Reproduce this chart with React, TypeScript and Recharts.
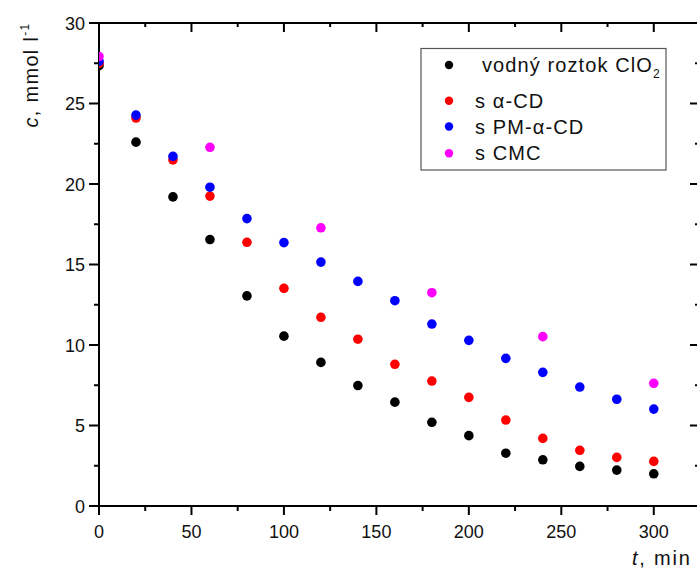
import { ScatterChart, Scatter, XAxis, YAxis } from "recharts";

// time (min)
const times = [0, 20, 40, 60, 80, 100, 120, 140, 160, 180, 200, 220, 240, 260, 280, 300];
const cmcTimes = [0, 60, 120, 180, 240, 300];

// concentration c (mmol/l)
const vodny = [27.35, 22.6, 19.2, 16.55, 13.05, 10.55, 8.92, 7.48, 6.45, 5.2, 4.37, 3.28, 2.87, 2.46, 2.23, 2.0];
const alphaCD = [27.5, 24.1, 21.5, 19.25, 16.38, 13.52, 11.72, 10.36, 8.8, 7.76, 6.75, 5.34, 4.2, 3.46, 3.02, 2.77];
const pmAlphaCD = [27.62, 24.28, 21.72, 19.8, 17.85, 16.36, 15.15, 13.95, 12.75, 11.3, 10.29, 9.17, 8.3, 7.39, 6.63, 6.02];
const cmc = [27.92, 22.28, 17.28, 13.25, 10.52, 7.62];

// axis ticks (majors get labels)
const xTicks = [0, 25, 50, 75, 100, 125, 150, 175, 200, 225, 250, 275, 300];
const yTicks = [0, 2.5, 5, 7.5, 10, 12.5, 15, 17.5, 20, 22.5, 25, 27.5, 30];

const FONT = "'Liberation Sans', Arial, sans-serif";

// layout
const CHART_H = 571;
const TOP_AXIS_H = 23;
const BOTTOM_AXIS_H = 65;
const PLOT_H = CHART_H - TOP_AXIS_H - BOTTOM_AXIS_H;

const toPoints = (xs: number[], ys: number[]) => xs.map((t, i) => ({ t, c: ys[i] }));

const series = [
  { name: "vodný roztok ClO", sub: "2", color: "#000000", data: toPoints(times, vodny) },
  { name: "s α-CD", color: "#ff0000", data: toPoints(times, alphaCD) },
  { name: "s PM-α-CD", color: "#0000ff", data: toPoints(times, pmAlphaCD) },
  { name: "s CMC", color: "#ff00ff", data: toPoints(cmcTimes, cmc) },
];

// bottom axis tick; also draws the matching inward tick on the top frame
// (a top XAxis in recharts 3 won't render ticks here)
const BottomTick = ({ x, y, payload }: any) => {
  const major = payload.value % 50 === 0;
  const top = y - PLOT_H;
  return (
    <g>
      <line x1={x} y1={y} x2={x} y2={y + (major ? 9 : 5)} stroke="#000" strokeWidth={2} />
      {payload.value > 0 && (
        <line x1={x} y1={top} x2={x} y2={top + (major ? 9 : 4)} stroke="#000" strokeWidth={2} />
      )}
      {major && (
        <text x={x} y={y + 31.5} textAnchor="middle" fontSize={18} fontFamily={FONT} fill="#111">
          {payload.value}
        </text>
      )}
    </g>
  );
};

const LeftTick = ({ x, y, payload }: any) => {
  const major = payload.value % 5 === 0;
  return (
    <g>
      <line x1={x} y1={y} x2={x - (major ? 10 : 5)} y2={y} stroke="#000" strokeWidth={2} />
      {major && (
        <text x={x - 14} y={y + 6.5} textAnchor="end" fontSize={18} fontFamily={FONT} fill="#111">
          {payload.value}
        </text>
      )}
    </g>
  );
};

const RightTick = ({ x, y, payload }: any) => {
  const major = payload.value % 5 === 0;
  return <line x1={x} y1={y} x2={x - (major ? 10 : 5)} y2={y} stroke="#000" strokeWidth={2} />;
};

const dot = (color: string) => (p: any) => <circle cx={p.cx} cy={p.cy} r={4.8} fill={color} />;

export default function App() {
  return (
    <div style={{ position: "absolute", left: 0, top: 0, width: 697, height: 571, overflow: "hidden", background: "#fff" }}>
      <ScatterChart width={700} height={CHART_H} margin={{ top: 0, right: 0, bottom: 0, left: 0 }}>
        <XAxis
          xAxisId="b"
          dataKey="t"
          type="number"
          domain={[0, 325]}
          allowDataOverflow
          ticks={xTicks}
          interval={0}
          height={BOTTOM_AXIS_H}
          tickSize={0}
          tickMargin={0}
          tickLine={false}
          tick={<BottomTick />}
          axisLine={{ stroke: "#000", strokeWidth: 2 }}
        />
        <XAxis
          xAxisId="top"
          orientation="top"
          type="number"
          domain={[0, 325]}
          allowDataOverflow
          height={TOP_AXIS_H}
          tick={false}
          tickLine={false}
          axisLine={{ stroke: "#000", strokeWidth: 2 }}
        />
        <YAxis
          yAxisId="l"
          dataKey="c"
          type="number"
          domain={[0, 30]}
          allowDataOverflow
          ticks={yTicks}
          interval={0}
          width={99}
          tickSize={0}
          tickMargin={0}
          tickLine={false}
          tick={<LeftTick />}
          axisLine={{ stroke: "#000", strokeWidth: 2 }}
        />
        <YAxis
          yAxisId="r"
          orientation="right"
          mirror
          type="number"
          domain={[0, 30]}
          allowDataOverflow
          ticks={yTicks}
          interval={0}
          width={1}
          tickSize={0}
          tickMargin={0}
          tickLine={false}
          tick={<RightTick />}
          axisLine={false}
        />
        {series.map((s) => (
          <Scatter
            key={s.name}
            xAxisId="b"
            yAxisId="l"
            data={s.data}
            fill={s.color}
            shape={dot(s.color)}
            isAnimationActive={false}
          />
        ))}
      </ScatterChart>

      <svg
        width={697}
        height={571}
        style={{ position: "absolute", left: 0, top: 0, pointerEvents: "none" }}
        fontFamily={FONT}
      >
        {/* axis titles */}
        <text
          transform="translate(37.5,75) rotate(-90)"
          textAnchor="middle"
          fontSize={20}
          letterSpacing={1.3}
          fill="#111"
        >
          <tspan fontStyle="italic">c</tspan>, mmol l
          <tspan fontSize={12} dy={-9}>-1</tspan>
        </text>
        <text x={632} y={565} fontSize={20} letterSpacing={1.8} fill="#111">
          <tspan fontStyle="italic">t</tspan>, min
        </text>

        {/* legend */}
        <rect x={421} y={48.5} width={245} height={121.5} fill="#fff" stroke="#555" strokeWidth={1.2} />
        {series.map((s, i) => {
          const cy = [65, 100.7, 126.5, 153.3][i];
          return (
            <g key={s.name}>
              <circle cx={449} cy={cy} r={4.2} fill={s.color} />
              <text x={i === 0 ? 482 : 475} y={cy + 7} fontSize={20} letterSpacing={1.1} fill="#111">
                {s.name}
                {s.sub && (
                  <tspan fontSize={12} dy={6}>
                    {s.sub}
                  </tspan>
                )}
              </text>
            </g>
          );
        })}
      </svg>
    </div>
  );
}
